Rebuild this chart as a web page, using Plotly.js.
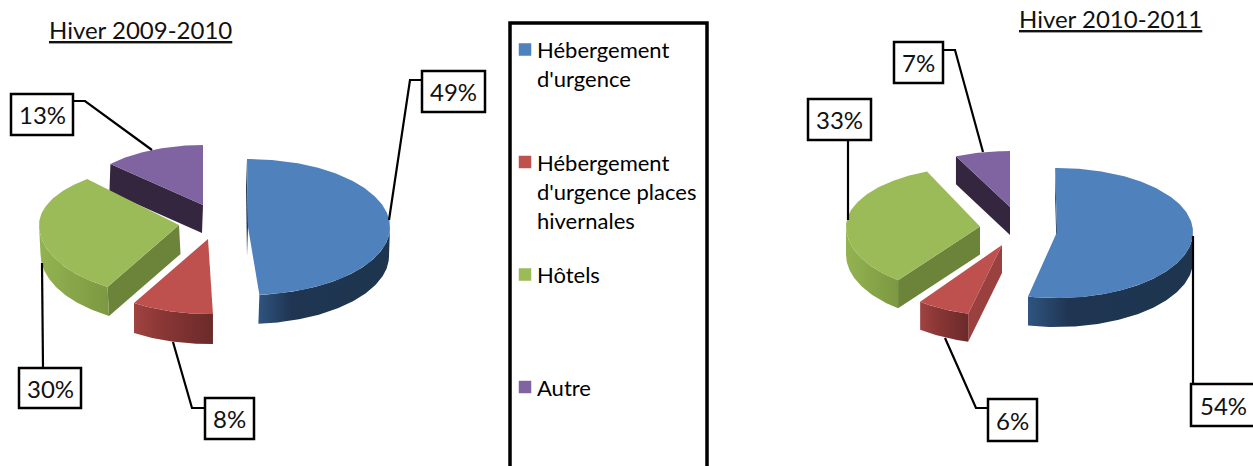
<!DOCTYPE html>
<html><head><meta charset="utf-8">
<script src="https://cdn.plot.ly/plotly-3.0.1.min.js"></script>
<style>html,body{margin:0;padding:0;background:#fff;overflow:hidden}</style>
</head><body><div id="chart" style="width:1253px;height:466px"></div>
<script>
// ---- data ----
const categories = ["Hébergement<br>d'urgence", "Hébergement<br>d'urgence places<br>hivernales", "Hôtels", "Autre"];
const hiver2009Values = [49, 8, 30, 13];
const hiver2010Values = [54, 6, 33, 7];
const chartTitles = ["Hiver 2009-2010", "Hiver 2010-2011"];

// ---- styles ----
const topColors = ["#4F81BD", "#BE504D", "#9BBB59", "#8064A2"];
const cutColors = ["#1F3552", "#9A403E", "#6C8439", "#35263F"];
const wallRamps = [
  [[0, "#2F5480"], [0.25, "#1F3552"], [1, "#1E3550"]],
  [[0, "#A04341"], [0.35, "#8A3735"], [1, "#6B2A2A"]],
  [[0, "#93B350"], [1, "#7C9842"]],
  [[0, "#35263F"], [1, "#35263F"]]
];
const FONT = "Lato, 'Open Sans', sans-serif";

// ---- geometry of each exploded, tilted slice (pixel axes) ----
const pieGeometry = [
  [ {cx:248,cy:227,rx:142,rb:68,rf:68,d:29,dx:-1,dS:-0.4,dE:-1,cuts:[0]},
    {cx:208,cy:239,rx:142,rb:75,rf:75,d:30,dx:0,dS:1.6,dE:6.2,cuts:[]},
    {cx:179,cy:225,rx:140,rb:61,rf:72,d:29,dx:1.5,dS:5.5,dE:5.8,cuts:[0]},
    {cx:203,cy:205,rx:127,rb:60,rf:60,d:28,dx:-1,dS:0,dE:0,cuts:[0]} ],
  [ {cx:1057,cy:232,rx:136,rb:64,rf:66,d:29,dx:0,dS:-0.8,dE:-2.1,cuts:[0]},
    {cx:1002,cy:245,rx:136,rb:71,rf:71,d:28,dx:0,dS:0,dE:1,cuts:[0]},
    {cx:980,cy:226.5,rx:134,rb:60,rf:68,d:28,dx:0,dS:1.7,dE:1.9,cuts:[0]},
    {cx:1010,cy:207,rx:127,rb:56,rf:56,d:28,dx:0,dS:0,dE:0,cuts:[0]} ]
];
const drawOrder = [3, 2, 0, 1];
const labelBoxes = [
  [ [422,71,485,112], [205,398,254,439], [19,368,81,408], [11,94,73,135] ],
  [ [1191,384,1265,426], [988,399,1037,441], [808,99,871,140], [894,42,943,83] ]
];
const labelCentres = [
  [null, null, null, null],
  [[1223,405], null, null, null]
];
const leaders = [
  ["M389,220 L410,80 L422,80", "M205,408 L192,408 L173,342", "M43,368 L42,263", "M73,101 L85,101 L152,150"],
  ["M1193,384 L1193,236", "M988,408 L976,408 L945,338", "M848,140 L848,220", "M943,50 L955,50 L983,152"]
];
const titleAnchors = [[140, 29], [1110, 18]];
const legendBox = [510, 23, 707, 490];
const legendMarkerX = 525, legendTextX = 535, legendRowY = [49.5, 162, 274.5, 387], legendLinePitch = 29;

const rad = Math.PI / 180;
function pt(g, th, down) {
  const c = Math.cos(th * rad), s = Math.sin(th * rad);
  const r = c >= 0 ? g.rb : g.rf;
  return [g.cx + g.rx * s + (down ? g.dx : 0), g.cy - r * c + (down ? g.d : 0)];
}
function arc(g, a, b, down) {
  const out = [];
  const n = Math.max(2, Math.ceil(Math.abs(b - a)));
  for (let i = 0; i <= n; i++) out.push(pt(g, a + (b - a) * i / n, down));
  return out;
}
function poly(points, name, extra) {
  return Object.assign({
    type: "scatter", mode: "lines", name: name, hoverinfo: "skip", showlegend: false,
    x: points.map(p => p[0]).concat(points[0][0]),
    y: points.map(p => p[1]).concat(points[0][1]),
    fill: "toself", line: {width: 0}
  }, extra);
}
function pieTraces(values, geo) {
  const total = values.reduce((a, b) => a + b, 0);
  let acc = 0;
  const angles = values.map(v => { const s = acc; acc += v; return [s / total * 360, acc / total * 360]; });
  const traces = [];
  drawOrder.forEach(i => {
    const g = geo[i], a = angles[i][0] + g.dS, b = angles[i][1] + g.dE;
    const name = categories[i].replace(/<br>/g, " ");
    // cut walls
    g.cuts.forEach(k => {
      const th = k === 0 ? a : b;
      const apex = [g.cx, g.cy], apexD = [g.cx + g.dx, g.cy + g.d];
      traces.push(poly([pt(g, th, false), apex, apexD, pt(g, th, true)], name, {fillcolor: cutColors[i]}));
    });
    // outer wall: only the part facing the viewer
    const va = Math.max(a, 90), vb = Math.min(b, 270);
    if (vb > va) {
      const pts = arc(g, va, vb, false).concat(arc(g, vb, va, true));
      traces.push(poly(pts, name, {fillgradient: {type: "horizontal", colorscale: wallRamps[i]}}));
    }
    // top face
    traces.push(poly([[g.cx, g.cy]].concat(arc(g, a, b, false)), name, {fillcolor: topColors[i]}));
  });
  return traces;
}

const traces = pieTraces(hiver2009Values, pieGeometry[0]).concat(pieTraces(hiver2010Values, pieGeometry[1]));
// legend swatches
traces.push({type: "scatter", mode: "markers", hoverinfo: "skip", showlegend: false,
  x: categories.map(() => legendMarkerX), y: legendRowY,
  marker: {symbol: "square", size: 12.5, color: topColors, line: {width: 0}}});

const shapes = [], annotations = [];
[hiver2009Values, hiver2010Values].forEach((vals, p) => {
  vals.forEach((v, i) => {
    const [x0, y0, x1, y1] = labelBoxes[p][i];
    shapes.push({type: "path", path: leaders[p][i], line: {color: "#000", width: 2.2}, layer: "above"});
    shapes.push({type: "rect", x0, y0, x1, y1, fillcolor: "#fff", line: {color: "#000", width: 2.5}, layer: "above"});
    const c = labelCentres[p][i] || [(x0 + x1) / 2, (y0 + y1) / 2];
    annotations.push({x: c[0], y: c[1], text: v + "%", showarrow: false, xanchor: "center", yanchor: "middle",
      font: {family: FONT, size: 24, color: "#111"}});
  });
  annotations.push({x: titleAnchors[p][0], y: titleAnchors[p][1], text: chartTitles[p], showarrow: false,
    xanchor: "center", yanchor: "middle", font: {family: FONT, size: 24, color: "#111", lineposition: "under"}});
});
shapes.push({type: "rect", x0: legendBox[0], y0: legendBox[1], x1: legendBox[2], y1: legendBox[3],
  line: {color: "#000", width: 3.5}, fillcolor: "rgba(0,0,0,0)", layer: "below"});
categories.forEach((c, i) => {
  c.split("<br>").forEach((ln, j) => {
    annotations.push({x: legendTextX, y: legendRowY[i] + j * legendLinePitch, text: ln, showarrow: false,
      xanchor: "left", yanchor: "middle", font: {family: FONT, size: 22, color: "#000"}});
  });
});

Plotly.newPlot("chart", traces, {
  width: 1253, height: 466, margin: {l: 0, r: 0, t: 0, b: 0},
  paper_bgcolor: "#fff", plot_bgcolor: "#fff", showlegend: false,
  xaxis: {range: [0, 1253], visible: false, fixedrange: true},
  yaxis: {range: [466, 0], visible: false, fixedrange: true},
  shapes, annotations
}, {displayModeBar: false, staticPlot: true});
</script></body></html>
